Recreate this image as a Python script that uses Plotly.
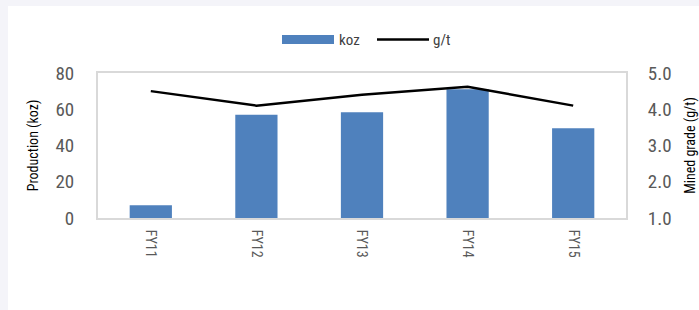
import plotly.graph_objects as go

categories = ["FY11", "FY12", "FY13", "FY14", "FY15"]
production_koz = [7, 57, 58.3, 71, 49.5]
grade_gpt = [4.5, 4.1, 4.4, 4.62, 4.1]
left_ticks = [0, 20, 40, 60, 80]
right_ticks = [1.0, 2.0, 3.0, 4.0, 5.0]

FONT = "Liberation Sans Narrow, Arial Narrow, Roboto Condensed, sans-serif"
BAR_COLOR = "#4f81bd"
TICK_COLOR = "#595959"

# plot area in pixels: x 98..626, y 73..218
L, R, T, B = 98, 73, 73, 92
PW, PH = 699 - L - R, 310 - T - B

def px_x(px):
    return (px - L) / PW

def px_y(py):
    return (T + PH - py) / PH

fig = go.Figure()
fig.add_trace(go.Bar(x=categories, y=production_koz, name="koz",
                     marker=dict(color=BAR_COLOR, line=dict(width=0)),
                     width=0.4, yaxis="y", showlegend=False))
fig.add_trace(go.Scatter(x=categories, y=grade_gpt, name="g/t", mode="lines",
                         line=dict(color="#000000", width=2.5),
                         yaxis="y2", showlegend=False))

shapes = [
    # outer light background strips
    dict(type="rect", xref="paper", yref="paper", x0=px_x(0), x1=px_x(8),
         y0=px_y(310), y1=px_y(0), fillcolor="#f4f4f9", line=dict(width=0), layer="below"),
    dict(type="rect", xref="paper", yref="paper", x0=px_x(0), x1=px_x(699),
         y0=px_y(6), y1=px_y(0), fillcolor="#f4f4f9", line=dict(width=0), layer="below"),
    # custom legend
    dict(type="rect", xref="paper", yref="paper", x0=px_x(282), x1=px_x(334),
         y0=px_y(44), y1=px_y(35), fillcolor=BAR_COLOR, line=dict(width=0)),
    dict(type="line", xref="paper", yref="paper", x0=px_x(377), x1=px_x(429),
         y0=px_y(39.5), y1=px_y(39.5), line=dict(color="#000000", width=2.5)),
]
annotations = [
    dict(text="koz", xref="paper", yref="paper", x=px_x(337), y=px_y(39.5),
         xanchor="left", yanchor="middle", showarrow=False,
         font=dict(family=FONT, size=15, color="#404040")),
    dict(text="g/t", xref="paper", yref="paper", x=px_x(431), y=px_y(39.5),
         xanchor="left", yanchor="middle", showarrow=False,
         font=dict(family=FONT, size=15, color="#404040")),
]

fig.update_layout(
    width=699, height=310,
    margin=dict(l=L, r=R, t=T, b=B, pad=0, autoexpand=False),
    paper_bgcolor="#ffffff", plot_bgcolor="#ffffff",
    font=dict(family=FONT, color=TICK_COLOR),
    shapes=shapes, annotations=annotations,
    xaxis=dict(type="category", range=[-0.5, 4.5], tickangle=90, automargin=False,
               tickfont=dict(family=FONT, size=14, color=TICK_COLOR),
               showline=True, linecolor="#d9d9d9", linewidth=2, mirror=True,
               ticks="outside", ticklen=7, tickcolor="rgba(0,0,0,0)",
               showgrid=False, zeroline=False),
    yaxis=dict(range=[0, 80], tickvals=left_ticks, showgrid=False, zeroline=False,
               automargin=False,
               tickfont=dict(family=FONT, size=19, color=TICK_COLOR),
               ticks="outside", ticklen=18, tickcolor="rgba(0,0,0,0)",
               showline=True, linecolor="#d9d9d9", linewidth=2, mirror=True,
               title=dict(text="Production (koz)", standoff=14,
                          font=dict(family=FONT, size=14, color="#000000"))),
    yaxis2=dict(range=[1.0, 5.0], tickvals=right_ticks, tickformat=".1f",
                overlaying="y", side="right", showgrid=False, zeroline=False,
                automargin=False,
                tickfont=dict(family=FONT, size=19, color=TICK_COLOR),
                ticks="outside", ticklen=17, tickcolor="rgba(0,0,0,0)",
                title=dict(text="Mined grade (g/t)", standoff=29,
                           font=dict(family=FONT, size=14, color="#000000"))),
)

fig.write_html("out.html", config={"displayModeBar": False},
               post_script="document.body.style.margin='0';document.body.style.overflow='hidden';")
